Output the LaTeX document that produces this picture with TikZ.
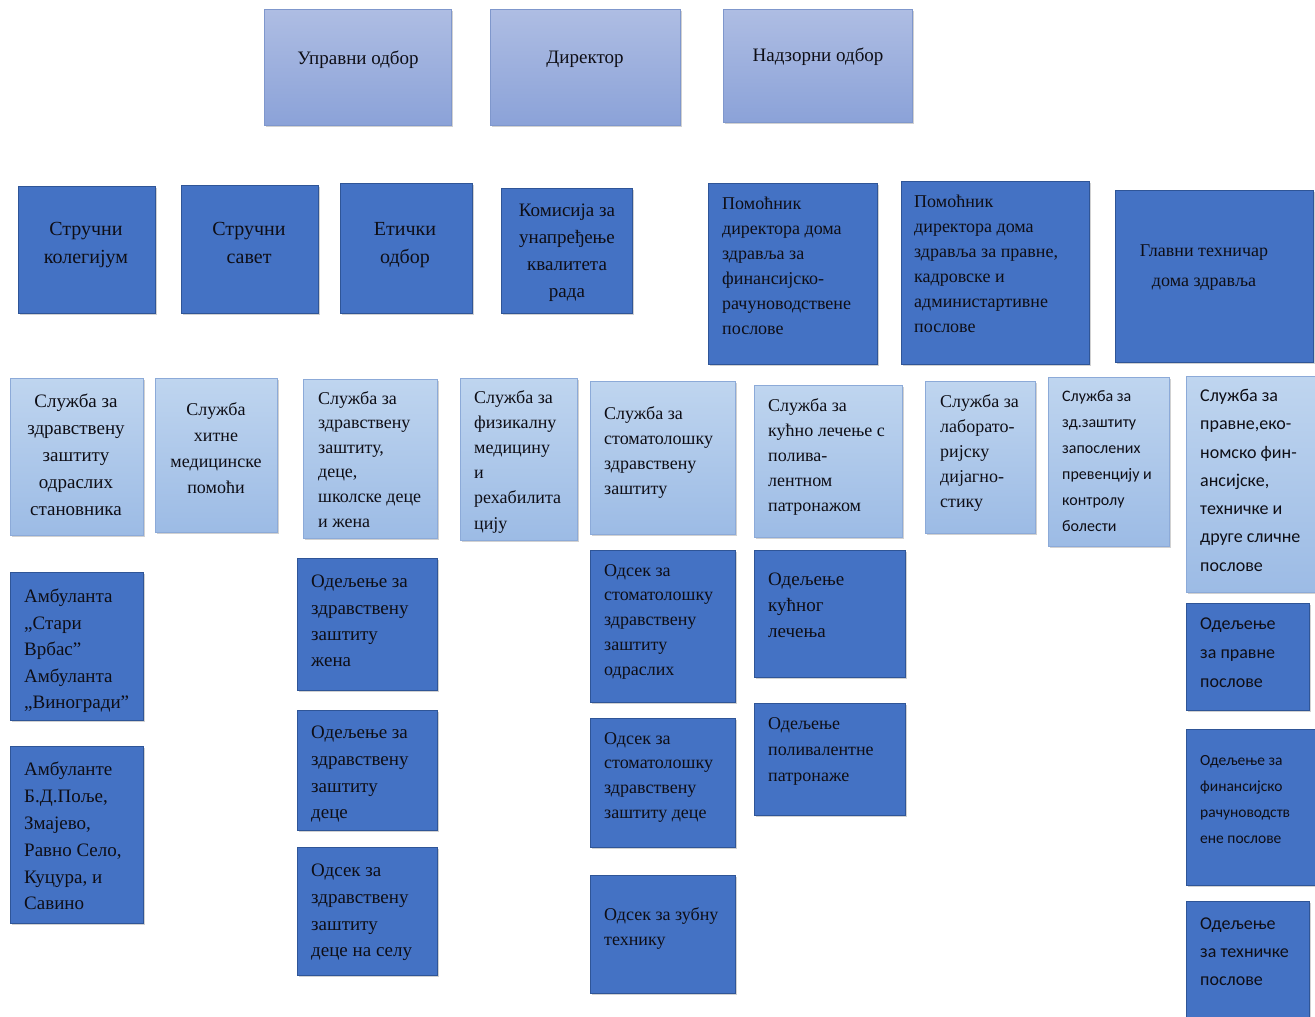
\documentclass[tikz,border=0pt]{standalone}
\usepackage{fontspec}
\setmainfont{Liberation Serif}
\newfontfamily\sansf{Carlito}
\usetikzlibrary{shadows}
\definecolor{dkfill}{HTML}{4472C4}
\definecolor{dkborder}{HTML}{2F5597}
\definecolor{tptop}{HTML}{AEBDE3}
\definecolor{tpbot}{HTML}{8BA2D8}
\definecolor{tpborder}{HTML}{7F97CC}
\definecolor{lttop}{HTML}{BFD5EF}
\definecolor{ltbot}{HTML}{9CBBE5}
\definecolor{ltborder}{HTML}{8CAAD8}
\definecolor{txtcol}{HTML}{0E0E16}
\newcommand\fsz[2]{\fontsize{#1}{#2}\selectfont}
\newcommand\obox[6]{\node[#1, minimum width={(#5-#3)*1pt}, minimum height={(#6-#4)*1pt}] (#2) at (#3,#4) {};}
\tikzset{
  basebox/.style={anchor=north west, inner sep=0pt, line width=0.9pt,
    drop shadow={shadow xshift=1.2pt, shadow yshift=-1.2pt, opacity=0.18, fill=black}},
  dbox/.style={basebox, draw=dkborder, fill=dkfill},
  tbox/.style={basebox, draw=tpborder, top color=tptop, bottom color=tpbot},
  lbox/.style={basebox, draw=ltborder, top color=lttop, bottom color=ltbot},
  txc/.style={anchor=north, align=center, inner sep=0pt, text=txtcol},
  txl/.style={anchor=north west, align=left, inner sep=0pt, text=txtcol},
}
\begin{document}
\begin{tikzpicture}[x=1pt,y=-1pt]
\fill[white] (0,0) rectangle (1315,1017);
\useasboundingbox (0,0) rectangle (1315,1017);

% ---- row 1
\obox{tbox}{A1}{264}{9}{451}{125}
\node[txc, font=\fsz{19}{26}] (A1t) at (358,51) {Управни одбор};
\obox{tbox}{A2}{490}{9}{680}{125}
\node[txc, font=\fsz{19}{26}] (A2t) at (585,51) {Директор};
\obox{tbox}{A3}{723}{9}{912}{122}
\node[txc, font=\fsz{19}{26}] (A3t) at (818,48) {Надзорни одбор};

% ---- row 2
\obox{dbox}{B1}{18}{186}{155}{313}
\node[txc, font=\fsz{20}{28}] (B1t) at (86,222) {Стручни\\колегијум};
\obox{dbox}{B2}{181}{185}{318}{313}
\node[txc, font=\fsz{20}{28}] (B2t) at (249,222) {Стручни\\савет};
\obox{dbox}{B3}{340}{183}{472}{313}
\node[txc, font=\fsz{20}{28}] (B3t) at (405,222) {Етички\\одбор};
\obox{dbox}{B4}{501}{188}{632}{313}
\node[txc, font=\fsz{19}{27}] (B4t) at (567,204) {Комисија за\\унапређење\\квалитета\\рада};
\obox{dbox}{B5}{708}{183}{877}{364}
\node[txl, font=\fsz{18}{25}] (B5t) at (722,197) {Помоћник\\директора дома\\здравља за\\финансијско-\\рачуноводствене\\послове};
\obox{dbox}{B6}{901}{181}{1089}{364}
\node[txl, font=\fsz{18}{25}] (B6t) at (914,195) {Помоћник\\директора дома\\здравља за правне,\\кадровске и\\администартивне\\послове};
\obox{dbox}{B7}{1115}{190}{1313}{362}
\node[txc, font=\fsz{18}{30}] (B7t) at (1204,245) {Главни техничар\\дома здравља};

% ---- row 3
\obox{lbox}{C1}{10}{378}{143}{535}
\node[txc, font=\fsz{19}{27}] (C1t) at (76,394) {Служба за\\здравствену\\заштиту\\одраслих\\становника};
\obox{lbox}{C2}{155}{378}{277}{532}
\node[txc, font=\fsz{18}{26}] (C2t) at (216,402) {Служба\\хитне\\медицинске\\помоћи};
\obox{lbox}{C3}{303}{379}{437}{538}
\node[txl, font=\fsz{18}{24.6}] (C3t) at (318,391) {Служба за\\здравствену\\заштиту,\\деце,\\школске деце\\и жена};
\obox{lbox}{C4}{460}{378}{577}{540}
\node[txl, font=\fsz{18}{25.2}] (C4t) at (474,390) {Служба за\\физикалну\\медицину\\и\\рехабилита\\цију};
\obox{lbox}{C5}{590}{381}{735}{534}
\node[txl, font=\fsz{18}{25}] (C5t) at (604,406) {Служба за\\стоматолошку\\здравствену\\заштиту};
\obox{lbox}{C6}{754}{385}{902}{537}
\node[txl, font=\fsz{18}{25}] (C6t) at (768,398) {Служба за\\кућно лечење с\\полива-\\лентном\\патронажом};
\obox{lbox}{C7}{925}{381}{1035}{533}
\node[txl, font=\fsz{18}{25}] (C7t) at (940,394) {Служба за\\лаборато-\\ријску\\дијагно-\\стику};
\obox{lbox}{C8}{1048}{377}{1169}{546}
\node[txl, font=\sansf\fsz{16}{26}] (C8t) at (1062,390) {Служба за\\зд.заштиту\\запослених\\превенцију и\\контролу\\болести};
\obox{lbox}{C9}{1186}{376}{1315}{592}
\node[txl, font=\sansf\fsz{18}{28.3}] (C9t) at (1200,389) {Служба за\\правне,еко-\\номско фин-\\ансијске,\\техничке и\\друге сличне\\послове};

% ---- lower rows
\obox{dbox}{D1}{10}{572}{143}{720}
\node[txl, font=\fsz{19}{26.5}] (D1t) at (24,589) {Амбуланта\\„Стари\\Врбас”\\Амбуланта\\„Виногради”};
\obox{dbox}{D2}{10}{746}{143}{923}
\node[txl, font=\fsz{19}{26.8}] (D2t) at (24,762) {Амбуланте\\Б.Д.Поље,\\Змајево,\\Равно Село,\\Куцура, и\\Савино};
\obox{dbox}{D3}{297}{558}{437}{690}
\node[txl, font=\fsz{19}{26.3}] (D3t) at (311,575) {Одељење за\\здравствену\\заштиту\\жена};
\obox{dbox}{D4}{297}{710}{437}{830}
\node[txl, font=\fsz{19}{26.7}] (D4t) at (311,726) {Одељење за\\здравствену\\заштиту\\деце};
\obox{dbox}{D5}{297}{847}{437}{975}
\node[txl, font=\fsz{19}{26.7}] (D5t) at (311,864) {Одсек за\\здравствену\\заштиту\\деце на селу};
\obox{dbox}{D6}{590}{550}{735}{702}
\node[txl, font=\fsz{18}{24.8}] (D6t) at (604,564) {Одсек за\\стоматолошку\\здравствену\\заштиту\\одраслих};
\obox{dbox}{D7}{590}{718}{735}{847}
\node[txl, font=\fsz{18}{24.7}] (D7t) at (604,732) {Одсек за\\стоматолошку\\здравствену\\заштиту деце};
\obox{dbox}{D8}{590}{875}{735}{993}
\node[txl, font=\fsz{18}{25}] (D8t) at (604,907) {Одсек за зубну\\технику};
\obox{dbox}{D9}{754}{550}{905}{677}
\node[txl, font=\fsz{19}{26}] (D9t) at (768,573) {Одељење\\кућног\\лечења};
\obox{dbox}{D10}{754}{703}{905}{815}
\node[txl, font=\fsz{18}{26}] (D10t) at (768,717) {Одељење\\поливалентне\\патронаже};
\obox{dbox}{D11}{1186}{603}{1309}{710}
\node[txl, font=\sansf\fsz{18}{29}] (D11t) at (1200,618) {Одељење\\за правне\\послове};
\obox{dbox}{D12}{1186}{729}{1315}{885}
\node[txl, font=\sansf\fsz{15.5}{26}] (D12t) at (1200,755) {Одељење за\\финансијско\\рачуноводств\\ене послове};
\obox{dbox}{D13}{1186}{901}{1309}{1017}
\node[txl, font=\sansf\fsz{18}{28}] (D13t) at (1200,918) {Одељење\\за техничке\\послове};
\end{tikzpicture}
\end{document}
